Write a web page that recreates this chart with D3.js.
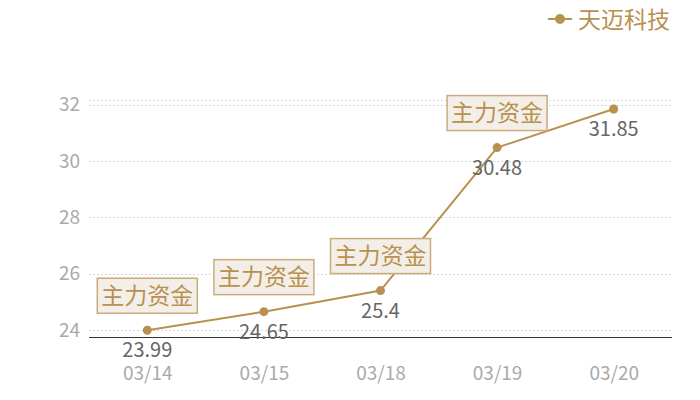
<!DOCTYPE html>
<html><head><meta charset="utf-8">
<script src="https://cdn.jsdelivr.net/npm/d3@7"></script>
<style>body{margin:0;background:#fff}svg{display:block}</style>
</head><body><svg id="c" width="700" height="400"></svg>
<script>
const categories = ["03/14","03/15","03/18","03/19","03/20"];
const values = [23.99, 24.65, 25.4, 30.48, 31.85];
const flags = ["主力资金","主力资金","主力资金","主力资金",null];
const yTicks = [24, 26, 28, 30, 32];
const seriesName = "天迈科技";

const font = "'Noto Sans CJK SC','Noto Sans',sans-serif";
const gold = "#b8914f";
const svg = d3.select("#c");
const x = d3.scalePoint().domain(categories).range([89, 672]).padding(0.5);
const y = d3.scaleLinear().domain([23.75, 32.17]).range([337, 100]);

// grid
const grid = svg.append("g");
grid.selectAll("line").data(yTicks.concat([32.17])).join("line")
  .attr("x1", 89).attr("x2", 672)
  .attr("y1", d => Math.round(y(d)) + 0.5).attr("y2", d => Math.round(y(d)) + 0.5)
  .attr("stroke", "#d6d6d6").attr("stroke-dasharray", "2,2");

// y labels
svg.append("g").selectAll("text").data(yTicks).join("text")
  .attr("x", 80).attr("y", d => y(d)).attr("dy", "0.35em")
  .attr("text-anchor", "end").attr("font-family", font).attr("font-size", 19)
  .attr("fill", "#aaaaaa").text(d => d);

// x axis
const xa = d3.axisBottom(x).tickSize(0).tickPadding(0);
const gx = svg.append("g").attr("transform", "translate(0,337)").call(xa);
gx.select(".domain").attr("stroke", "#333").attr("stroke-width", 1.2).attr("d", "M89,0.5H672");
gx.selectAll("text").attr("font-family", font).attr("font-size", 19).attr("fill", "#aaaaaa")
  .attr("y", 36).attr("dy", "0.35em");

// line
const line = d3.line().x((d, i) => x(categories[i])).y(d => y(d));
svg.append("path").datum(values).attr("d", line).attr("fill", "none")
  .attr("stroke", gold).attr("stroke-width", 2);

svg.append("g").selectAll("circle").data(values).join("circle")
  .attr("cx", (d, i) => x(categories[i])).attr("cy", d => y(d)).attr("r", 4.5)
  .attr("fill", gold);

// value labels
svg.append("g").selectAll("text").data(values).join("text")
  .attr("x", (d, i) => x(categories[i])).attr("y", d => y(d) + 20).attr("dy", "0.35em")
  .attr("text-anchor", "middle").attr("font-family", font).attr("font-size", 20)
  .attr("fill", "#666666").text(d => d);

// flags
const fg = svg.append("g").selectAll("g").data(values.map((v, i) => ({v, i, t: flags[i]})).filter(d => d.t))
  .join("g").attr("transform", d => `translate(${x(categories[d.i])},${y(d.v) - 17})`);
fg.append("rect").attr("x", -50).attr("y", -35).attr("width", 100).attr("height", 35)
  .attr("fill", "#f3eee7").attr("stroke", "#cbab7e").attr("stroke-width", 1.5);
fg.append("text").attr("x", 0).attr("y", -17.5).attr("dy", "0.35em").attr("text-anchor", "middle")
  .attr("font-family", font).attr("font-size", 23).attr("fill", gold).text(d => d.t);

// legend
const lg = svg.append("g");
lg.append("line").attr("x1", 548).attr("x2", 572).attr("y1", 19).attr("y2", 19)
  .attr("stroke", gold).attr("stroke-width", 2);
lg.append("circle").attr("cx", 560).attr("cy", 19).attr("r", 5).attr("fill", gold);
lg.append("text").attr("x", 578).attr("y", 20).attr("dy", "0.35em")
  .attr("font-family", font).attr("font-size", 23).attr("fill", gold).text(seriesName);
</script></body></html>
